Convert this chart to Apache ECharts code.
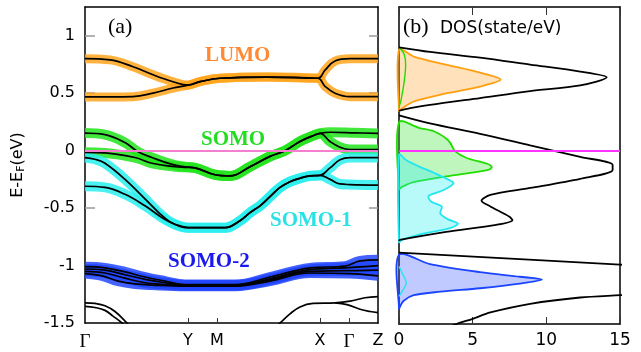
<!DOCTYPE html>
<html>
<head>
<meta charset="utf-8">
<script src="https://cdn.jsdelivr.net/npm/echarts@6/dist/echarts.min.js"></script>
<style>
  html, body { margin: 0; padding: 0; background: #fff; }
  #chart { width: 641px; height: 352px; }
</style>
</head>
<body>
<div id="chart"></div>
<script>
// k-path (distance along path) and its labels
const kTicks = [0, 103, 132, 235, 264, 293]
const kLabels = ['Γ', 'Y', 'M', 'X', 'Γ', 'Z']
const energyTicks = [-1.5, -1, -0.5, 0, 0.5, 1]
const fermiLevel = 0

// bands: [k, E-Ef]
const lumoA = [[0,0.80],[25,0.79],[48,0.73],[68,0.66],[88,0.60],[103,0.57],[115,0.60],[135,0.63],[182,0.64],[233,0.63],[240,0.70],[250,0.78],[265,0.80],[293,0.80]]
const lumoB = [[0,0.467],[48,0.47],[68,0.50],[88,0.545],[103,0.57],[115,0.60],[135,0.63],[182,0.64],[233,0.63],[240,0.56],[250,0.50],[265,0.47],[293,0.47]]

const somoA = [[0,0.153],[20,0.14],[40,0.07],[53,-0.01],[67,-0.06],[87,-0.12],[100,-0.14],[110,-0.15],[130,-0.21],[145,-0.22],[165,-0.14],[185,-0.05],[200,0.0],[215,0.08],[228,0.13],[235,0.15],[245,0.16],[270,0.155],[293,0.15]]
const somoB = [[0,-0.015],[20,-0.02],[50,-0.06],[67,-0.11],[90,-0.14],[100,-0.145],[110,-0.15],[130,-0.21],[145,-0.22],[165,-0.14],[185,-0.05],[200,0.0],[215,0.08],[228,0.13],[235,0.15],[245,0.08],[255,0.03],[265,0.01],[293,0.01]]

const somo1A = [[0,-0.06],[10,-0.075],[20,-0.11],[40,-0.25],[60,-0.42],[75,-0.55],[85,-0.62],[95,-0.66],[103,-0.67],[140,-0.67],[155,-0.61],[165,-0.54],[175,-0.48],[185,-0.40],[195,-0.32],[205,-0.27],[215,-0.24],[225,-0.22],[235,-0.215],[245,-0.15],[255,-0.08],[265,-0.06],[293,-0.06]]
const somo1B = [[0,-0.31],[20,-0.32],[40,-0.38],[60,-0.48],[80,-0.60],[90,-0.64],[103,-0.67],[140,-0.67],[155,-0.61],[165,-0.54],[175,-0.48],[185,-0.40],[195,-0.32],[205,-0.27],[215,-0.24],[225,-0.22],[235,-0.215],[245,-0.25],[255,-0.29],[265,-0.295],[293,-0.30]]

const somo2A = [[0,-1.01],[20,-1.02],[40,-1.055],[60,-1.10],[80,-1.135],[100,-1.165],[150,-1.165],[185,-1.10],[225,-1.02],[260,-1.005],[275,-0.96],[293,-0.95]]
const somo2B = [[0,-1.03],[20,-1.04],[40,-1.08],[60,-1.12],[80,-1.15],[100,-1.17],[150,-1.17],[185,-1.115],[225,-1.035],[260,-1.02],[293,-1.00]]
const somo2C = [[0,-1.05],[20,-1.065],[40,-1.11],[60,-1.15],[80,-1.165],[100,-1.175],[150,-1.175],[185,-1.125],[225,-1.05],[260,-1.045],[293,-1.04]]
const somo2D = [[0,-1.07],[17,-1.09],[33,-1.135],[50,-1.16],[67,-1.17],[100,-1.18],[150,-1.18],[185,-1.135],[225,-1.065],[265,-1.07],[293,-1.09]]

const deepA = [[0,-1.325],[10,-1.33],[20,-1.35],[30,-1.40],[42,-1.50],[46,-1.54]]
const deepB = [[0,-1.355],[10,-1.365],[20,-1.39],[28,-1.44],[37,-1.50],[41,-1.54]]
const deepC = [[190,-1.54],[195,-1.50],[205,-1.42],[215,-1.36],[228,-1.33],[250,-1.325],[265,-1.31],[280,-1.28],[293,-1.27]]
const deepD = [[250,-1.325],[262,-1.34],[275,-1.38],[285,-1.40],[293,-1.41]]

// DOS: [states/eV, E-Ef]
const dosTotalLumo = [[0,0.90],[2.1,0.86],[5.5,0.81],[8.9,0.75],[12.3,0.69],[14.1,0.64],[12.3,0.57],[8.9,0.52],[5.5,0.46],[2.1,0.40],[0.3,0.36],[0,0.35]]
const dosTotalSomo = [[0,0.31],[2.1,0.24],[5.5,0.15],[8.9,0.05],[12.3,-0.05],[14.5,-0.12],[14.5,-0.165],[12.3,-0.24],[8.9,-0.32],[6.2,-0.38],[5.6,-0.43],[6.2,-0.48],[7.5,-0.57],[7.7,-0.60],[6.6,-0.64],[3.2,-0.70],[0.05,-0.77],[0,-0.78]]
const dosTotalDeep = [[0,-0.88],[15,-0.985],[34,-1.11],[15,-1.25],[12.3,-1.27],[8.9,-1.325],[6.2,-1.40],[5.0,-1.455],[3.9,-1.50],[3.0,-1.55]]

const pdosLumo = [[0,0.88],[1.0,0.82],[3.2,0.75],[5.5,0.68],[6.9,0.62],[5.5,0.56],[3.2,0.50],[1.0,0.43],[0.1,0.36],[0,0.35]]
const pdosSomo = [[0,0.25],[1.4,0.20],[2.4,0.17],[3.2,0.11],[3.5,0.067],[3.8,0.0],[4.6,-0.06],[6.0,-0.11],[6.3,-0.14],[6.0,-0.165],[3.2,-0.22],[1.0,-0.27],[0.2,-0.31],[0,-0.33]]
const pdosSomo1 = [[0,-0.03],[0.5,-0.08],[1.3,-0.13],[2.4,-0.19],[3.4,-0.25],[3.7,-0.28],[3.0,-0.34],[2.0,-0.39],[2.2,-0.44],[2.9,-0.48],[2.8,-0.54],[3.3,-0.59],[4.0,-0.63],[3.4,-0.67],[1.5,-0.72],[0.2,-0.77],[0,-0.79]]
const pdosSomo2 = [[0,-0.90],[2.1,-0.98],[5.5,-1.05],[8.2,-1.09],[9.7,-1.115],[8.2,-1.15],[5.5,-1.19],[2.8,-1.22],[1.0,-1.25],[0.3,-1.30],[0.05,-1.355],[0,-1.37]]
const pdosSomoInLumo = [[0,0.90],[0.35,0.84],[0.45,0.75],[0.35,0.6],[0.15,0.45],[0,0.38]]
const pdosSomo1InDeep = [[0,-1.0],[0.3,-1.08],[0.5,-1.14],[0.3,-1.2],[0,-1.26]]

const C = {
  orange: '#ffa41c', green: '#22e41c', cyan: '#2aeeee', blue: '#2246ff'
}

const chart = echarts.init(document.getElementById('chart'))

function halo(data, color, width) {
  return {
    type: 'line', xAxisIndex: 0, yAxisIndex: 0, data, smooth: 0.4,
    symbol: 'none', silent: true, z: 2,
    lineStyle: { color, width: width || 10, opacity: 0.85, cap: 'butt', join: 'round' }
  }
}
function band(data) {
  return {
    type: 'line', xAxisIndex: 0, yAxisIndex: 0, data, smooth: 0.4,
    symbol: 'none', silent: true, z: 4,
    lineStyle: { color: '#000', width: 1.7 }
  }
}
function dosLine(data, color, width) {
  return {
    type: 'line', xAxisIndex: 2, yAxisIndex: 2, data, smooth: 0.3,
    symbol: 'none', silent: true, z: 4,
    lineStyle: { color, width: width || 1.8 }
  }
}
function dosFill(data, fill, stroke) {
  return {
    type: 'custom', xAxisIndex: 2, yAxisIndex: 2, data: [[0, 0]], silent: true, z: 3,
    renderItem(params, api) {
      const pts = data.map(p => api.coord(p))
      return {
        type: 'polygon',
        shape: { points: pts, smooth: 0.3 },
        style: { fill, stroke, lineWidth: 1.8 }
      }
    }
  }
}

const series = [
  halo(lumoA, C.orange, 9), halo(lumoB, C.orange, 9),
  halo(somoA, C.green), halo(somoB, C.green),
  halo(somo1A, C.cyan), halo(somo1B, C.cyan),
  halo(somo2A, C.blue), halo(somo2B, C.blue), halo(somo2C, C.blue), halo(somo2D, C.blue),
  band(lumoA), band(lumoB), band(somoA), band(somoB), band(somo1A), band(somo1B),
  band(somo2A), band(somo2B), band(somo2C), band(somo2D),
  band(deepA), band(deepB), band(deepC), band(deepD),
  {
    type: 'line', xAxisIndex: 0, yAxisIndex: 0, data: [], z: 3,
    markLine: {
      silent: true, symbol: 'none', label: { show: false },
      lineStyle: { color: '#f57fcf', width: 2, type: 'solid' },
      data: [{ yAxis: fermiLevel }]
    }
  },
  dosFill(pdosLumo, 'rgba(255,170,60,0.35)', '#ff9f10'),
  dosFill(pdosSomo, 'rgba(70,230,70,0.35)', '#22dd00'),
  dosFill(pdosSomo1, 'rgba(40,240,240,0.33)', '#22e6f0'),
  dosFill(pdosSomo2, 'rgba(60,90,255,0.32)', '#1a44ff'),
  dosLine(pdosSomoInLumo, '#22dd00', 1.4),
  dosLine(pdosSomo1InDeep, '#22e6f0', 1.4),
  dosLine(dosTotalLumo, '#000'), dosLine(dosTotalSomo, '#000'), dosLine(dosTotalDeep, '#000'),
  {
    type: 'line', xAxisIndex: 2, yAxisIndex: 2, data: [], z: 5,
    markLine: {
      silent: true, symbol: 'none', label: { show: false },
      lineStyle: { color: '#ff33ff', width: 2, type: 'solid' },
      data: [{ yAxis: fermiLevel }]
    }
  }
]

const frame = { onZero: false, lineStyle: { color: '#000', width: 1.5 } }
const noLabel = { show: false }
const noSplit = { show: false }

chart.setOption({
  animation: false,
  textStyle: { fontFamily: 'DejaVu Sans' },
  grid: [
    { left: 85, top: 7, width: 293, height: 317 },
    { left: 399, top: 7, width: 221, height: 317 }
  ],
  xAxis: [
    {
      gridIndex: 0, type: 'value', min: 0, max: 293, position: 'bottom',
      axisLine: frame, splitLine: noSplit,
      axisTick: { inside: true, length: 5, customValues: kTicks.slice(1, 5), lineStyle: { color: '#333' } },
      axisLabel: {
        customValues: kTicks, color: '#000', fontSize: 16, margin: 10,
        formatter: v => {
          const s = kLabels[kTicks.indexOf(v)]
          return s === 'Γ' ? '{g|Γ}' : s
        },
        rich: { g: { fontFamily: 'Liberation Serif', fontSize: 19, color: '#000' } }
      }
    },
    {
      gridIndex: 0, type: 'value', min: 0, max: 293, position: 'top',
      axisLine: frame, axisTick: { show: false }, axisLabel: noLabel, splitLine: noSplit
    },
    {
      gridIndex: 1, type: 'value', min: 0, max: 15, interval: 5, position: 'bottom',
      axisLine: frame, splitLine: noSplit,
      axisTick: { inside: true, length: 7, lineStyle: { color: '#333' } },
      axisLabel: { color: '#000', fontSize: 17, margin: 8 }
    },
    {
      gridIndex: 1, type: 'value', min: 0, max: 15, interval: 5, position: 'top',
      axisLine: frame, splitLine: noSplit, axisLabel: noLabel,
      axisTick: { inside: true, length: 8, lineStyle: { color: '#333' } }
    }
  ],
  yAxis: [
    {
      gridIndex: 0, type: 'value', min: -1.5, max: 1.25, position: 'left',
      axisLine: frame, splitLine: noSplit,
      axisTick: { inside: true, length: 10, customValues: energyTicks.slice(1), lineStyle: { color: '#999', width: 1.5 } },
      axisLabel: { customValues: energyTicks, color: '#000', fontSize: 16, margin: 10 },
      name: '{a|E-E}{b|F}{a|(eV)}', nameLocation: 'middle', nameGap: 58, nameRotate: 90,
      nameTextStyle: {
        rich: {
          a: { fontSize: 16, color: '#000', fontFamily: 'DejaVu Sans' },
          b: { fontSize: 11, color: '#000', fontFamily: 'DejaVu Sans', padding: [8, 0, 0, 0] }
        }
      }
    },
    {
      gridIndex: 0, type: 'value', min: -1.5, max: 1.25, position: 'right',
      axisLine: frame, splitLine: noSplit, axisLabel: noLabel,
      axisTick: { inside: true, length: 9, customValues: energyTicks.slice(1), lineStyle: { color: '#999', width: 1.5 } }
    },
    {
      gridIndex: 1, type: 'value', min: -1.5, max: 1.25, position: 'left',
      axisLine: frame, splitLine: noSplit, axisLabel: noLabel, axisTick: { show: false }
    },
    {
      gridIndex: 1, type: 'value', min: -1.5, max: 1.25, position: 'right',
      axisLine: frame, splitLine: noSplit, axisLabel: noLabel, axisTick: { show: false }
    }
  ],
  graphic: [
    { type: 'text', x: 108, y: 27, z: 10, style: { text: '(a)', font: '22px "Liberation Serif"', fill: '#000', verticalAlign: 'middle' } },
    { type: 'text', x: 403, y: 27, z: 10, style: { text: '(b)', font: '22px "Liberation Serif"', fill: '#000', verticalAlign: 'middle' } },
    { type: 'text', x: 440, y: 29, z: 10, style: { text: 'DOS(state/eV)', font: '17px "DejaVu Sans"', fill: '#000', verticalAlign: 'middle' } },
    { type: 'text', x: 205, y: 56, z: 10, style: { text: 'LUMO', font: 'bold 21px "Liberation Serif"', fill: '#ff8a33', verticalAlign: 'middle' } },
    { type: 'text', x: 201, y: 140, z: 10, style: { text: 'SOMO', font: 'bold 21px "Liberation Serif"', fill: '#22dd22', verticalAlign: 'middle' } },
    { type: 'text', x: 270, y: 221, z: 10, style: { text: 'SOMO-1', font: 'bold 21px "Liberation Serif"', fill: '#2ae2e6', verticalAlign: 'middle' } },
    { type: 'text', x: 168, y: 262, z: 10, style: { text: 'SOMO-2', font: 'bold 21px "Liberation Serif"', fill: '#1a1aee', verticalAlign: 'middle' } }
  ],
  series
})
</script>
</body>
</html>
